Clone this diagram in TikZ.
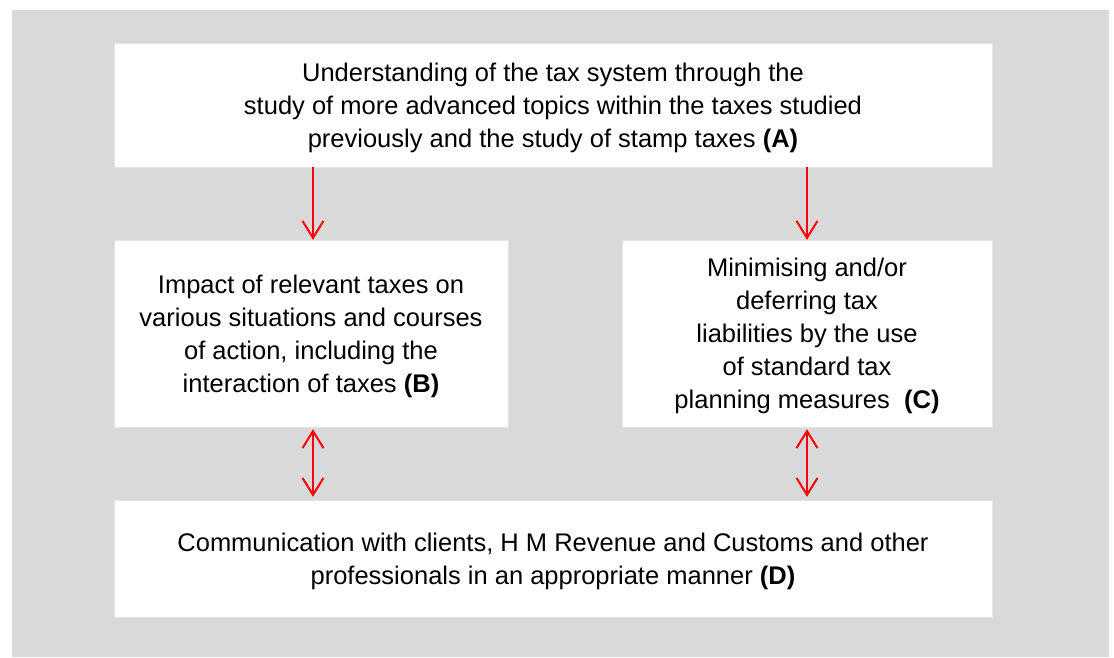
\documentclass[tikz,border=0pt]{standalone}
\usepackage{fontspec}
\setmainfont{Liberation Sans}
\usetikzlibrary{arrows.meta}
\definecolor{panel}{HTML}{D9D9D9}
\definecolor{rim}{HTML}{E4E4E4}
\definecolor{flow}{HTML}{FF0000}
\tikzset{fig/.style={x=1pt,y=-1pt,line join=round},
  stage/.style={draw=rim,fill=white,align=center,inner sep=0pt,font=\fontsize{25.5}{33}\selectfont,
    text depth=-4pt},
  lowstage/.style={stage,text depth=-10pt},
  tip/.tip={Straight Barb[length=17pt,width=21pt]},
  link/.style={flow,line width=2pt,-tip},
  twoway/.style={flow,line width=2pt,tip-tip,shorten <=2pt,shorten >=3pt}}

\begin{document}
\begin{tikzpicture}[fig]
  \useasboundingbox(0,0)rectangle(1114,657);
  \fill[panel](12,10)rectangle(1109,657);
  \node[stage,minimum width=878pt,minimum height=124pt](A)at(553,105)
    {Understanding of the tax system through the\\study of more advanced topics within the taxes studied\\previously and the study of stamp taxes \textbf{(A)}};
  \node[lowstage,minimum width=394pt,minimum height=187pt](B)at(311,333.5)
    {Impact of relevant taxes on\\various situations and courses\\of action, including the\\interaction of taxes \textbf{(B)}};
  \node[lowstage,minimum width=370pt,minimum height=187pt](C)at(807,333.5)
    {Minimising and/or\\deferring tax\\liabilities by the use\\of standard tax\\planning measures\ \ \textbf{(C)}};
  \node[stage,minimum width=878pt,minimum height=117pt](D)at(553,558.5)
    {Communication with clients, H M Revenue and Customs and other\\professionals in an appropriate manner \textbf{(D)}};
  % flow down from A, both ways to D
  \draw[link]([xshift=2pt]A.south -| B.north)--([xshift=2pt]B.north);
  \draw[link](A.south -| C.north)--(C.north);
  \draw[twoway]([xshift=2pt]B.south)--([xshift=2pt]D.north -| B.south);
  \draw[twoway](C.south)--(D.north -| C.south);
\end{tikzpicture}
\end{document}
